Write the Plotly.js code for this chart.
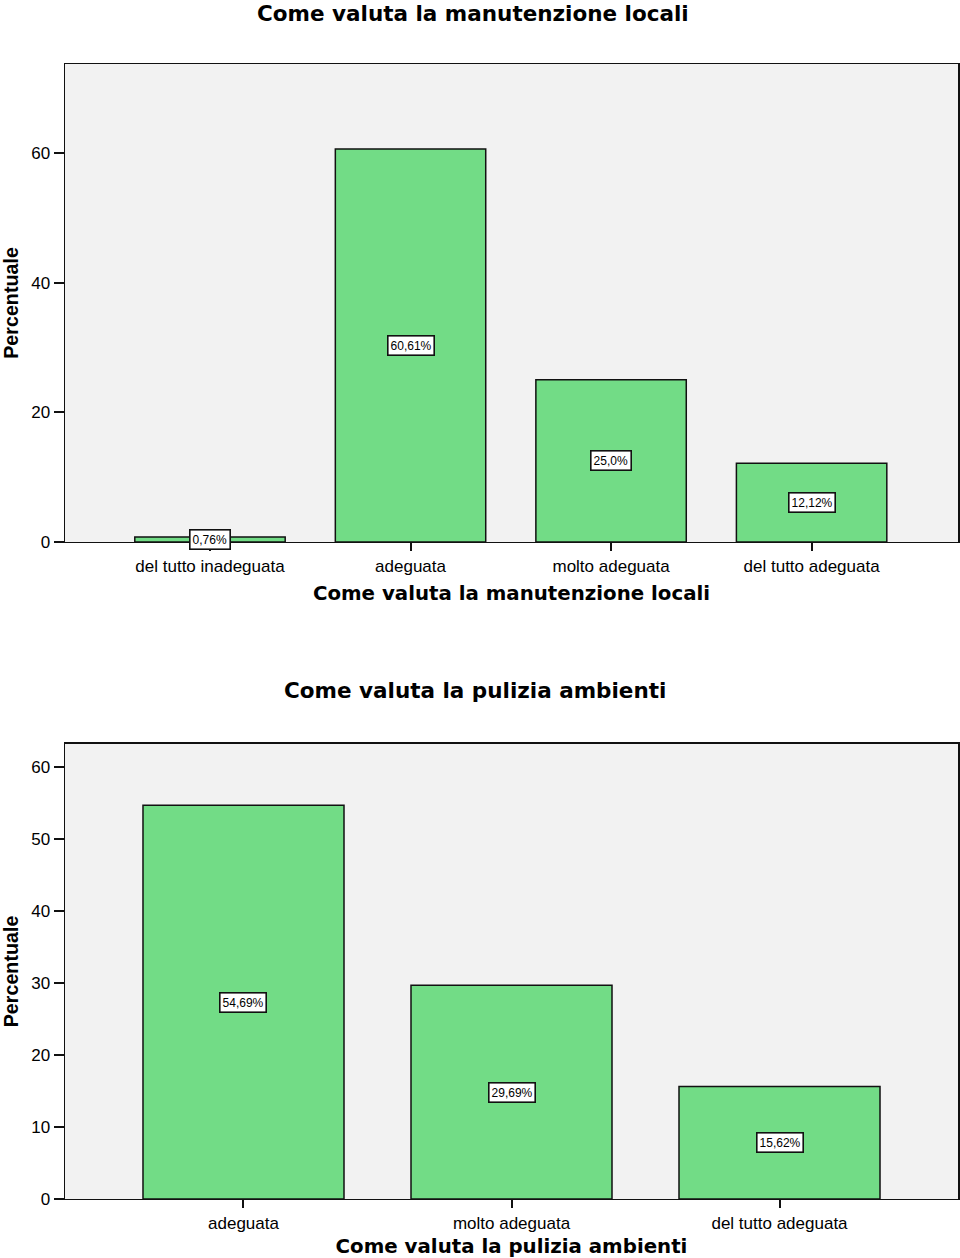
<!DOCTYPE html>
<html>
<head>
<meta charset="utf-8">
<script src="https://cdn.plot.ly/plotly-3.0.1.min.js"></script>
<style>
  body { margin: 0; background: #fff; }
  #graph { width: 960px; height: 1258px; }
</style>
</head>
<body>
<div id="graph"></div>
<script>
// grafico 1: manutenzione locali
var catManut = ['del tutto inadeguata', 'adeguata', 'molto adeguata', 'del tutto adeguata'];
var valManut = [0.76, 60.61, 25.0, 12.12];
var lblManut = ['0,76%', '60,61%', '25,0%', '12,12%'];

// grafico 2: pulizia ambienti
var catPulizia = ['adeguata', 'molto adeguata', 'del tutto adeguata'];
var valPulizia = [54.69, 29.69, 15.62];
var lblPulizia = ['54,69%', '29,69%', '15,62%'];

var verde = '#72dc86';
var titolo1 = 'Come valuta la manutenzione locali';
var titolo2 = 'Come valuta la pulizia ambienti';
var fontTitolo = 'DejaVu Sans';
var fontY = 'Liberation Sans, Arial';

var trace1 = {
  x: catManut,
  y: valManut,
  type: 'bar',
  width: 0.75,
  marker: {color: verde, line: {color: '#111', width: 1.5}},
  hoverinfo: 'none',
  xaxis: 'x',
  yaxis: 'y'
};

var trace2 = {
  x: catPulizia,
  y: valPulizia,
  type: 'bar',
  width: 0.75,
  marker: {color: verde, line: {color: '#111', width: 1.5}},
  hoverinfo: 'none',
  xaxis: 'x2',
  yaxis: 'y2'
};

// etichette in riquadro bianco a meta' barra
var annots = [];
function etichette(cats, vals, lbls, xr, yr) {
  for (var i = 0; i < cats.length; i++) {
    annots.push({
      x: cats[i], y: vals[i] / 2, xref: xr, yref: yr,
      text: lbls[i], showarrow: false,
      font: {family: 'Liberation Sans, Arial', size: 12, color: '#000'},
      bgcolor: '#fff', bordercolor: '#111', borderwidth: 1.6, borderpad: 2
    });
  }
}
etichette(catManut, valManut, lblManut, 'x', 'y');
etichette(catPulizia, valPulizia, lblPulizia, 'x2', 'y2');

// titoli dei grafici
annots.push({
  text: '<b>' + titolo1 + '</b>', xref: 'paper', yref: 'paper',
  x: 0.457, y: 1, yanchor: 'top', showarrow: false, borderpad: 0,
  font: {family: fontTitolo, size: 21.5, color: '#000'}
});
annots.push({
  text: '<b>' + titolo2 + '</b>', xref: 'paper', yref: 'paper',
  x: 0.459, y: 1 - 690 / 1258, yanchor: 'middle', showarrow: false,
  font: {family: fontTitolo, size: 21.5, color: '#000'}
});

var asseX = {
  type: 'category',
  showline: true, mirror: true, linecolor: '#111', linewidth: 1.5,
  ticks: 'outside', ticklen: 8, tickwidth: 2, tickcolor: '#111',
  tickfont: {family: 'Liberation Sans, Arial', size: 17, color: '#000'},
  showgrid: false, zeroline: false, fixedrange: true
};
var asseY = {
  showline: true, mirror: true, linecolor: '#111', linewidth: 1.5,
  ticks: 'outside', ticklen: 10, tickwidth: 2, tickcolor: '#111',
  tickfont: {family: 'Liberation Sans, Arial', size: 17, color: '#000'},
  showgrid: false, zeroline: false, fixedrange: true
};

var layout = {
  width: 960,
  height: 1258,
  margin: {l: 65, r: 2, t: 0, b: 0},
  paper_bgcolor: '#fff',
  plot_bgcolor: '#f2f2f2',
  showlegend: false,
  bargap: 0,
  xaxis: Object.assign({}, asseX, {
    domain: [0, 1], anchor: 'y', range: [-0.723, 3.73],
    title: {text: '<b>' + titolo1 + '</b>', standoff: 11,
      font: {family: fontTitolo, size: 19.8, color: '#000'}}
  }),
  yaxis: Object.assign({}, asseY, {
    domain: [0.5692, 0.9491], anchor: 'x', range: [0, 73.7],
    tickvals: [0, 20, 40, 60],
    title: {text: '<b>Percentuale</b>', standoff: 12,
      font: {family: fontY, size: 19.7, color: '#000'}}
  }),
  xaxis2: Object.assign({}, asseX, {
    domain: [0, 1], anchor: 'y2', range: [-0.666, 2.666],
    title: {text: '<b>' + titolo2 + '</b>', standoff: 13,
      font: {family: fontTitolo, size: 19.8, color: '#000'}}
  }),
  yaxis2: Object.assign({}, asseY, {
    domain: [0.0469, 0.4086], anchor: 'x2', range: [0, 63.2],
    tickvals: [0, 10, 20, 30, 40, 50, 60],
    title: {text: '<b>Percentuale</b>', standoff: 12,
      font: {family: fontY, size: 19.7, color: '#000'}}
  }),
  annotations: annots
};

Plotly.newPlot('graph', [trace1, trace2], layout, {displayModeBar: false, staticPlot: true});
</script>
</body>
</html>
